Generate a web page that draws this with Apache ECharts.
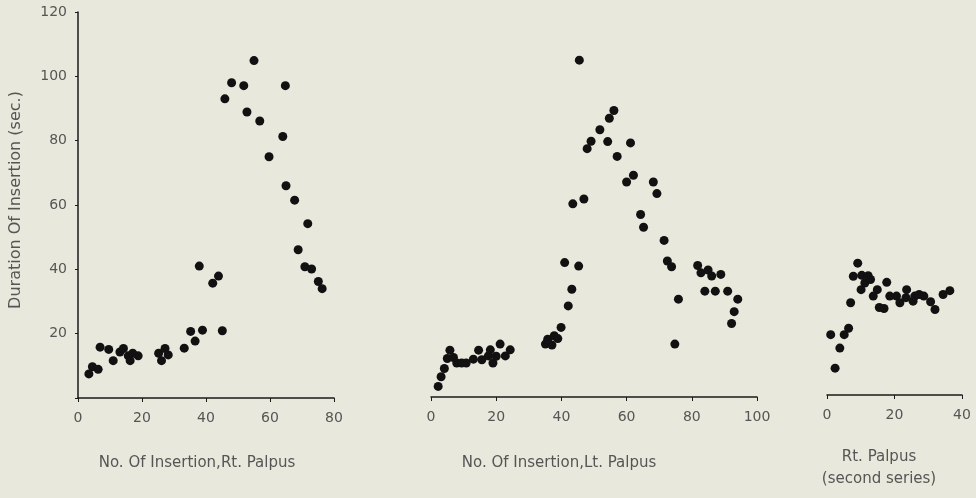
<!DOCTYPE html>
<html>
<head>
<meta charset="utf-8">
<script src="https://cdn.jsdelivr.net/npm/echarts@6/dist/echarts.min.js"></script>
<style>
  html, body { margin: 0; padding: 0; background: #e9e8dc; }
  #chart { width: 976px; height: 498px; }
</style>
</head>
<body>
<div id="chart"></div>
<script>
// [insertion no., duration (sec.)]
var rtPalpus = [
    [3.4, 7.5], [4.5, 9.7], [6.3, 8.9], [6.9, 15.8], [9.6, 15.1], [11, 11.6],
    [13.1, 14.3], [14.2, 15.4], [15.7, 13.1], [16.3, 11.6], [17.1, 13.9], [18.8, 13.1],
    [25.2, 13.9], [27.2, 15.4], [28.2, 13.4], [26.1, 11.6], [33.2, 15.5], [35.2, 20.7],
    [36.6, 17.7], [38.9, 21.1], [45.1, 20.9], [37.9, 41.0], [42.1, 35.7], [43.9, 37.9],
    [45.9, 93.0], [48, 98.0], [51.8, 97.1], [52.8, 88.9], [55, 104.9], [56.8, 86.1],
    [59.7, 75.0], [64, 81.3], [64.8, 97.1], [65, 66.0], [67.7, 61.5], [68.8, 46.1],
    [70.9, 40.8], [71.8, 54.2], [73, 40.1], [75.1, 36.2], [76.3, 34.0]
];
var ltPalpus = [
    [2.2, 3.3], [3.1, 6.3], [4.1, 8.9], [5, 12.0], [5.8, 14.6], [6.9, 12.3],
    [7.9, 10.6], [9.4, 10.6], [10.8, 10.6], [13, 11.8], [14.6, 14.6], [15.6, 11.6],
    [17.6, 12.8], [18.2, 14.7], [19, 10.6], [20, 12.7], [21.2, 16.5], [22.8, 12.8],
    [24.3, 14.7], [35.1, 16.5], [35.8, 18.0], [37.1, 16.2], [37.8, 19.1], [38.9, 18.2],
    [39.9, 21.7], [41, 41.9], [42.1, 28.4], [43.2, 33.6], [43.5, 60.2], [45.3, 40.8],
    [45.5, 105], [46.9, 61.7], [47.9, 77.4], [49.1, 79.7], [51.8, 83.3], [54.2, 79.6],
    [54.7, 86.9], [56.1, 89.3], [57.1, 75.0], [60, 67.0], [61.2, 79.2], [62.1, 69.1],
    [64.3, 56.9], [65.2, 52.9], [68.2, 67.0], [69.3, 63.4], [71.5, 48.8], [72.5, 42.4],
    [73.8, 40.6], [74.8, 16.5], [75.9, 30.5], [81.8, 41.0], [82.8, 38.7], [84, 33.0],
    [85, 39.6], [86.1, 37.7], [87.2, 33.0], [88.9, 38.2], [91, 33.0], [92.2, 22.9],
    [93, 26.6], [94.1, 30.5]
];
var rtPalpus2 = [
    [1.1, 18.9], [2.4, 8.4], [3.8, 14.7], [5.1, 18.9], [6.4, 20.9], [7, 28.9],
    [7.8, 37.2], [9.1, 41.3], [10.1, 33.0], [10.3, 37.5], [11.2, 35.1], [12.2, 37.4],
    [12.9, 36.2], [13.7, 31.0], [14.9, 33.0], [15.5, 27.4], [16.9, 27.1], [17.7, 35.3],
    [18.6, 31.0], [20.6, 31.0], [21.6, 28.9], [23.4, 30.5], [23.6, 33.0], [25.5, 29.4],
    [26, 31.0], [27.3, 31.5], [28.7, 31.0], [30.7, 29.2], [32, 26.8], [34.4, 31.5],
    [36.4, 32.7]
];
var xMax = [80, 100, 40];
var xNames = ['No. Of Insertion,Rt. Palpus', 'No. Of Insertion,Lt. Palpus', 'Rt. Palpus', '(second series)'];
var yName = 'Duration Of Insertion (sec.)';

var chart = echarts.init(document.getElementById('chart'));
var font = '"DejaVu Sans", Arial, sans-serif';
var ink = '#1a1a1a';
var textCol = '#555';

var grids = [
    { left: 78, top: 12, width: 256, height: 386 },
    { left: 431, top: 12, width: 326, height: 385 },
    { left: 827, top: 12, width: 135, height: 383 }
];

function xAxisFor(i) {
    return {
        gridIndex: i, type: 'value', min: 0, max: xMax[i], interval: 20,
        axisLine: { show: true, onZero: false, lineStyle: { color: ink, width: 1.5 } },
        axisTick: { show: true, length: 4, lineStyle: { color: ink } },
        splitLine: { show: false },
        axisLabel: { color: textCol, fontSize: 14, fontFamily: font, margin: 13 }
    };
}
function yAxisFor(i) {
    var show = i === 0;
    return {
        gridIndex: i, type: 'value', min: 0, max: 120, interval: 20,
        axisLine: { show: show, lineStyle: { color: ink, width: 1.5 } },
        axisTick: { show: show, length: 3, lineStyle: { color: ink } },
        splitLine: { show: false },
        axisLabel: {
            show: show, color: textCol, fontSize: 14, fontFamily: font, margin: 11,
            formatter: function (v) { return v === 0 ? '' : v; }
        }
    };
}
function scatterFor(i, data) {
    return {
        type: 'scatter', xAxisIndex: i, yAxisIndex: i, data: data,
        symbolSize: 9, itemStyle: { color: '#111', opacity: 1 }, silent: true
    };
}

var namePos = [[197, 463], [559, 463], [879, 457], [879, 479]];
var labels = xNames.map(function (t, i) {
    return {
        type: 'text', x: namePos[i][0], y: namePos[i][1],
        style: {
            text: t, fill: textCol, font: '15px ' + font,
            align: 'center', verticalAlign: 'middle'
        }
    };
});
labels.push({
    type: 'text', x: 16, y: 200, rotation: Math.PI / 2,
    style: {
        text: yName, fill: textCol, font: '16px ' + font,
        align: 'center', verticalAlign: 'middle'
    }
});

chart.setOption({
    backgroundColor: '#e9e8dc',
    animation: false,
    grid: grids,
    xAxis: [xAxisFor(0), xAxisFor(1), xAxisFor(2)],
    yAxis: [yAxisFor(0), yAxisFor(1), yAxisFor(2)],
    series: [scatterFor(0, rtPalpus), scatterFor(1, ltPalpus), scatterFor(2, rtPalpus2)],
    graphic: labels
});
</script>
</body>
</html>
